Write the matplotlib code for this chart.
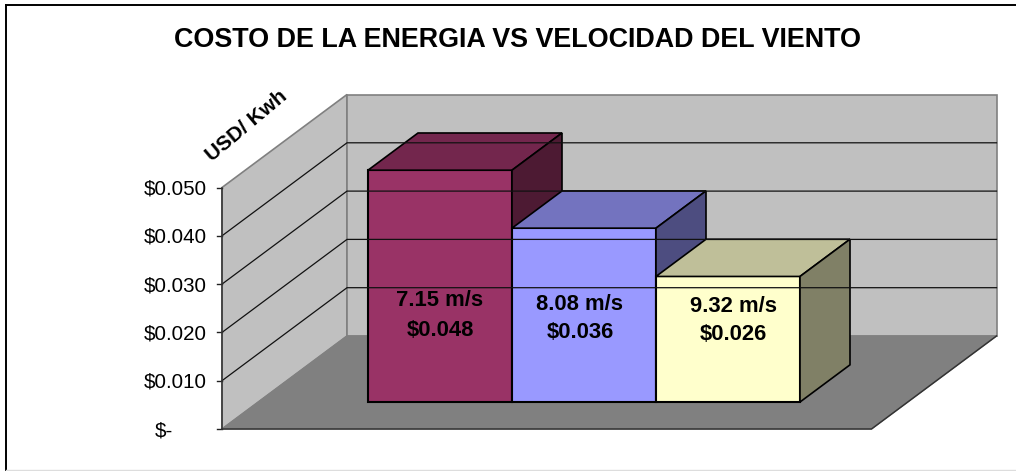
import matplotlib
matplotlib.use('Agg')
import matplotlib.pyplot as plt
from matplotlib.patches import Polygon

plt.rcParams['font.family'] = ['Liberation Sans', 'DejaVu Sans']

# data
speeds = ['7.15 m/s', '8.08 m/s', '9.32 m/s']
costs = [0.048, 0.036, 0.026]
tick_values = [0.0, 0.01, 0.02, 0.03, 0.04, 0.05]
tick_labels = ['$-', '$0.010', '$0.020', '$0.030', '$0.040', '$0.050']
front_colors = ['#993366', '#9999FF', '#FFFFCC']
top_colors = ['#73264D', '#7373BF', '#BFBF99']
side_colors = ['#4D1A33', '#4D4D80', '#808066']

# 3d projection of the chart box, in pixels
X0, X1 = 222, 871.5
Y0 = 429
DX, DY = 125, -93
PX_PER_USD = 4830
VMAX = 0.05

BAR_LEFT = 368
BAR_W = 144
BAR_D0, BAR_D1 = 0.29, 0.69


def proj(x, v, d):
    # x along front edge, v = value, d = depth 0..1
    return x + d * DX, Y0 - v * PX_PER_USD + d * DY


fig = plt.figure(figsize=(10.16, 4.71), dpi=100)
ax = fig.add_axes([0, 0, 1, 1])
ax.set_xlim(0, 1016)
ax.set_ylim(471, 0)
ax.axis('off')


def poly(points, color, edge, lw=1.0):
    ax.add_patch(Polygon(points, closed=True, facecolor=color, edgecolor=edge, linewidth=lw, joinstyle='miter'))


# frame around the chart
ax.plot([6, 6], [471, 5], color='black', lw=1.4)
ax.plot([6, 1016], [5, 5], color='black', lw=1.4)
ax.plot([6, 1016], [470, 470], color='#DDDDDD', lw=1.0)

# walls and floor
poly([proj(X0, 0, 0), proj(X0, VMAX, 0), proj(X0, VMAX, 1), proj(X0, 0, 1)], '#C0C0C0', '#808080', 1.2)
poly([proj(X0, 0, 1), proj(X0, VMAX, 1), proj(X1, VMAX, 1), proj(X1, 0, 1)], '#C0C0C0', '#808080', 1.2)
poly([proj(X0, 0, 0), proj(X0, 0, 1), proj(X1, 0, 1), proj(X1, 0, 0)], '#808080', '#808080', 0.8)

# gridlines, ticks and tick labels
for v, lab in zip(tick_values, tick_labels):
    if 0 < v < VMAX:
        a, b, c = proj(X0, v, 0), proj(X0, v, 1), proj(X1, v, 1)
        ax.plot([a[0], b[0], c[0]], [a[1], b[1], c[1]], color='#111111', lw=0.9)
    tx, ty = proj(X0, v, 0)
    ax.plot([tx - 5, tx], [ty, ty], color='#222222', lw=1.0)
    # the zero label is narrower and sits away from the axis, accounting style
    lab_x = 173 if v == 0 else 207
    ax.text(lab_x, ty + 1.5, lab, ha='right', va='center', fontsize=14.8, color='black')

# dark axis lines
ax.plot([X0, X0], [proj(X0, 0, 0)[1], proj(X0, VMAX, 0)[1]], color='#333333', lw=1.1)
a, b = proj(X1, 0, 0), proj(X1, 0, 1)
ax.plot([X0, a[0], b[0]], [Y0, a[1], b[1]], color='#333333', lw=1.1)

# bars, drawn left to right so each one covers the side of the last
for i, (speed, cost) in enumerate(zip(speeds, costs)):
    # bar x given on its own front plane, so take the depth shift back out
    xl = BAR_LEFT + i * BAR_W - BAR_D0 * DX
    xr = xl + BAR_W
    f0 = [proj(xl, 0, BAR_D0), proj(xl, cost, BAR_D0), proj(xr, cost, BAR_D0), proj(xr, 0, BAR_D0)]
    poly(f0, front_colors[i], 'black', 1.5)
    poly([proj(xl, cost, BAR_D0), proj(xl, cost, BAR_D1), proj(xr, cost, BAR_D1), proj(xr, cost, BAR_D0)],
         top_colors[i], 'black', 1.2)
    poly([proj(xr, 0, BAR_D0), proj(xr, cost, BAR_D0), proj(xr, cost, BAR_D1), proj(xr, 0, BAR_D1)],
         side_colors[i], 'black', 1.2)

# value labels sit at fixed spots, not on top of the bars
label_pos = [(440, 301, 330), (580, 304, 333), (733, 307, 335)]
for speed, cost, (lx, y1, y2) in zip(speeds, costs, label_pos):
    ax.text(lx, y1, speed, ha='center', va='center', fontsize=15.8, fontweight='bold', color='black')
    ax.text(lx, y2, f'${cost:.3f}', ha='center', va='center', fontsize=15.8, fontweight='bold', color='black')

ax.text(517.5, 40, 'COSTO DE LA ENERGIA VS VELOCIDAD DEL VIENTO', ha='center', va='center',
        fontsize=19.4, fontweight='bold', color='black')
ax.text(247, 126, 'USD/ Kwh', ha='center', va='center', rotation=40, rotation_mode='anchor',
        fontsize=15, fontweight='bold', color='black')

fig.savefig('out.png', dpi=100)
